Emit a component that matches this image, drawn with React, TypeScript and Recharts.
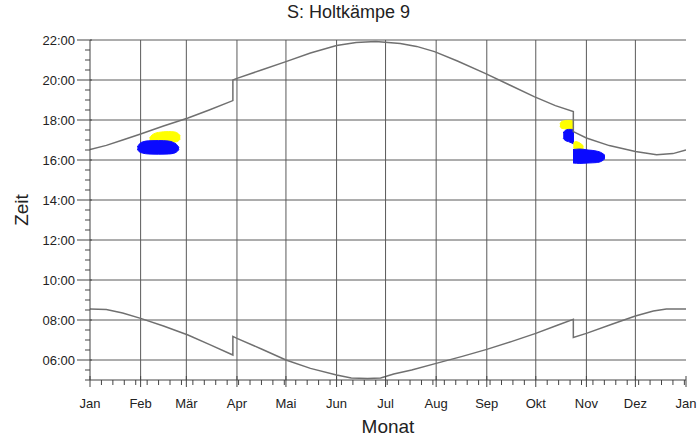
import React from 'react';
import { ComposedChart, Line, Area, XAxis, YAxis, CartesianGrid } from 'recharts';

const monthNames = ['Jan', 'Feb', 'Mär', 'Apr', 'Mai', 'Jun', 'Jul', 'Aug', 'Sep', 'Okt', 'Nov', 'Dez', 'Jan'];
const monthStarts = [0, 31, 59, 90, 120, 151, 181, 212, 243, 273, 304, 334, 365];
const hourTicks = [6, 8, 10, 12, 14, 16, 18, 20, 22];

// [day of year, hour] - sunset incl. DST jumps
const sunset: [number, number][] = [
  [0, 16.53], [10, 16.73], [20, 17.0], [31, 17.3], [45, 17.7], [60, 18.1], [73, 18.5],
  [87.5, 18.97], [87.5, 20.0], [90, 20.08], [105, 20.5], [120, 20.92], [135, 21.35],
  [151, 21.72], [163, 21.87], [175, 21.92], [190, 21.83], [200, 21.68], [211, 21.42],
  [225, 20.95], [242, 20.33], [257, 19.75], [272, 19.17], [285, 18.72], [296, 18.42],
  [296, 17.42], [304, 17.1], [318, 16.72], [334, 16.42], [347, 16.26], [357, 16.32], [365, 16.5],
];

// [day of year, hour] - sunrise incl. DST jumps
const sunrise: [number, number][] = [
  [0, 8.55], [10, 8.53], [20, 8.35], [31, 8.08], [45, 7.7], [60, 7.25], [73, 6.78],
  [87.5, 6.25], [87.5, 7.18], [90, 7.08], [105, 6.55], [120, 6.0], [135, 5.58],
  [151, 5.25], [160, 5.1], [170, 5.07], [178, 5.1], [186, 5.3], [197, 5.5], [212, 5.83],
  [228, 6.18], [243, 6.53], [258, 6.92], [273, 7.33], [285, 7.7], [296, 8.03],
  [296, 7.13], [304, 7.33], [320, 7.8], [334, 8.2], [345, 8.45], [353, 8.55], [365, 8.55],
];

// shadow periods [day, from hour, to hour]
const febYellow: [number, number, number][] = [
  [36.5, 17.0, 17.1], [38, 16.9, 17.25], [42, 16.9, 17.38], [48, 16.9, 17.42],
  [52, 16.9, 17.4], [54, 16.95, 17.32], [55.3, 17.05, 17.2],
];
const febBlue: [number, number, number][] = [
  [29, 16.55, 16.65], [30, 16.42, 16.78], [32, 16.35, 16.9], [36, 16.3, 16.96],
  [42, 16.29, 16.97], [48, 16.3, 16.95], [51, 16.33, 16.88], [53, 16.4, 16.78], [54.5, 16.52, 16.62],
];
const novYellowUpper: [number, number, number][] = [
  [287.8, 17.68, 17.82], [289, 17.58, 17.93], [292, 17.55, 17.98], [295, 17.5, 17.98], [296.2, 17.5, 17.9],
];
const novBlueUpper: [number, number, number][] = [
  [289.8, 17.08, 17.35], [291, 16.98, 17.48], [293, 16.92, 17.53], [295, 16.85, 17.53], [296.4, 16.8, 17.5],
];
const novYellowLower: [number, number, number][] = [
  [296, 16.6, 16.85], [297.5, 16.55, 16.92], [300, 16.52, 16.85], [302.2, 16.57, 16.7],
];
const novBlueLower: [number, number, number][] = [
  [295.8, 15.85, 16.52], [300, 15.83, 16.55], [305, 15.85, 16.5], [310, 15.87, 16.45],
  [313.5, 15.95, 16.35], [315.4, 16.07, 16.23],
];

const toLine = (pts: [number, number][]) => pts.map(([d, h]) => ({ d, h }));
const toRange = (pts: [number, number, number][]) => pts.map(([d, lo, hi]) => ({ d, r: [lo, hi] }));

const weekTicks = Array.from({ length: 52 }, (_, i) => (i + 1) * 7).filter((d) => !monthStarts.includes(d));
const xTicks = [...monthStarts, ...weekTicks].sort((a, b) => a - b);
const yTicks = Array.from({ length: 35 }, (_, i) => 5 + i * 0.5);

const FONT = '"Liberation Sans", Arial, sans-serif';
const INK = '#444';

const XTick = ({ x, y, payload }: any) => {
  const i = monthStarts.indexOf(payload.value);
  if (i < 0) return <line x1={x} x2={x} y1={y} y2={y + 5} stroke={INK} />;
  return (
    <g>
      <line x1={x} x2={x} y1={y - 4} y2={y + 7} stroke={INK} />
      <text x={x} y={y + 28} textAnchor="middle" fontSize={13} fontFamily={FONT} fill="#222">
        {monthNames[i]}
      </text>
    </g>
  );
};

const YTick = ({ x, y, payload }: any) => {
  const v = payload.value;
  if (v % 2 !== 0) return <line x1={x - 5} x2={x} y1={y} y2={y} stroke={INK} />;
  const label = `${String(v).padStart(2, '0')}:00`;
  return (
    <g>
      <line x1={x - 13} x2={x + 2} y1={y} y2={y} stroke={INK} />
      <text x={x - 15} y={y + 4.5} textAnchor="end" fontSize={13} fontFamily={FONT} fill="#222">
        {label}
      </text>
    </g>
  );
};

export default function App() {
  return (
    <div style={{ position: 'absolute', left: 0, top: 0, width: 697, height: 437, background: '#fff', fontFamily: FONT }}>
      <div style={{ position: 'absolute', left: 0, top: 3, width: 697, textAlign: 'center', fontSize: 18, lineHeight: '18px', color: '#222' }}>
        S: Holtkämpe 9
      </div>
      <div style={{ position: 'absolute', left: -28, top: 200, width: 100, height: 20, textAlign: 'center', fontSize: 19, lineHeight: '20px', color: '#222', transform: 'rotate(-90deg)' }}>
        Zeit
      </div>
      <div style={{ position: 'absolute', left: 288, top: 417, width: 200, textAlign: 'center', fontSize: 19, lineHeight: '19px', color: '#222' }}>
        Monat
      </div>
      <ComposedChart width={697} height={437} margin={{ top: 40, right: 11, left: 0, bottom: 0 }}>
        <CartesianGrid
          stroke="#5a5a5a"
          strokeWidth={1}
          horizontalValues={hourTicks}
          verticalValues={monthStarts.slice(1, 12)}
        />
        <XAxis
          dataKey="d"
          type="number"
          domain={[0, 365]}
          ticks={xTicks}
          interval={0}
          tick={<XTick />}
          tickLine={false}
          tickSize={0}
          tickMargin={0}
          height={57}
          axisLine={{ stroke: INK }}
          allowDataOverflow
        />
        <YAxis
          type="number"
          domain={[5, 22]}
          ticks={yTicks}
          interval={0}
          tick={<YTick />}
          tickLine={false}
          tickSize={0}
          tickMargin={0}
          width={90}
          axisLine={{ stroke: INK }}
          allowDataOverflow
        />
        <Area data={toRange(febYellow)} dataKey="r" type="monotone" fill="#ffff00" stroke="#ffff00" fillOpacity={1} isAnimationActive={false} />
        <Area data={toRange(febBlue)} dataKey="r" type="monotone" fill="#0a0aff" stroke="#0a0aff" fillOpacity={1} isAnimationActive={false} />
        <Area data={toRange(novYellowUpper)} dataKey="r" type="monotone" fill="#ffff00" stroke="#ffff00" fillOpacity={1} isAnimationActive={false} />
        <Area data={toRange(novBlueUpper)} dataKey="r" type="monotone" fill="#0a0aff" stroke="#0a0aff" fillOpacity={1} isAnimationActive={false} />
        <Area data={toRange(novYellowLower)} dataKey="r" type="monotone" fill="#ffff00" stroke="#ffff00" fillOpacity={1} isAnimationActive={false} />
        <Area data={toRange(novBlueLower)} dataKey="r" type="monotone" fill="#0a0aff" stroke="#0a0aff" fillOpacity={1} isAnimationActive={false} />
        <Line data={toLine(sunset)} dataKey="h" type="linear" stroke="#707070" strokeWidth={1.5} dot={false} isAnimationActive={false} />
        <Line data={toLine(sunrise)} dataKey="h" type="linear" stroke="#707070" strokeWidth={1.5} dot={false} isAnimationActive={false} />
      </ComposedChart>
    </div>
  );
}
